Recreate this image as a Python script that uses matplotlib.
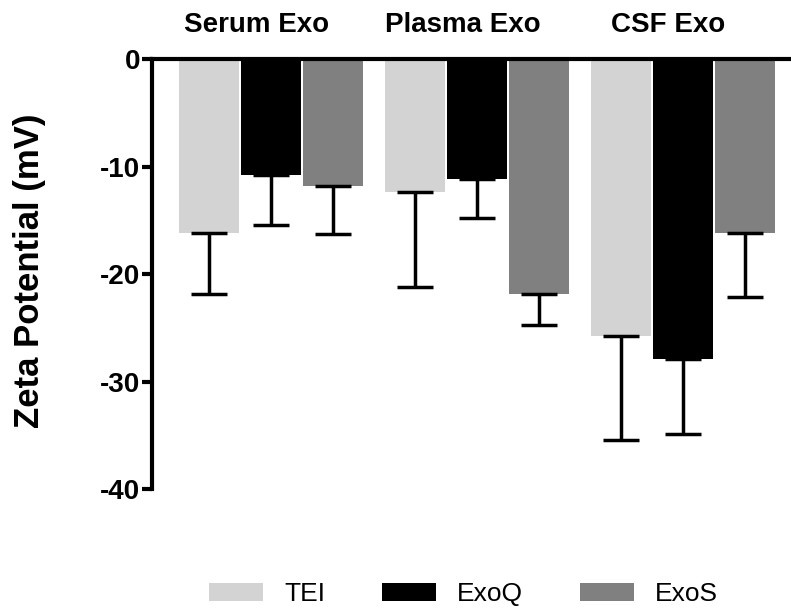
import matplotlib.pyplot as plt
import numpy as np

plt.rcParams['font.family'] = ['Liberation Sans', 'DejaVu Sans']

# Duomenys
groups = ['Serum Exo', 'Plasma Exo', 'CSF Exo']
methods = ['TEI', 'ExoQ', 'ExoS']
colors = ['#d3d3d3', '#000000', '#808080']

means = {
    'TEI': [-16.2, -12.4, -25.8],
    'ExoQ': [-10.8, -11.2, -27.9],
    'ExoS': [-11.8, -21.9, -16.2],
}
errs = {
    'TEI': [5.7, 8.8, 9.6],
    'ExoQ': [4.6, 3.6, 7.0],
    'ExoS': [4.5, 2.8, 5.9],
}

yticks = [0, -10, -20, -30, -40]

fig = plt.figure(figsize=(7.91, 6.09), dpi=100)
ax = fig.add_axes([0.192, 0.197, 0.808, 0.706])

x = np.arange(len(groups))
width = 0.29
offsets = [-0.3, 0, 0.3]

for m, c, off in zip(methods, colors, offsets):
    vals = np.array(means[m])
    e = np.array(errs[m])
    ax.bar(x + off, vals, width, color=c, label=m, zorder=2)
    ax.errorbar(x + off, vals, yerr=[e, np.zeros_like(e)], fmt='none',
                ecolor='black', elinewidth=2.5, capsize=13, capthick=2.5, zorder=3)

ax.set_xlim(-0.578, 2.524)
ax.set_ylim(-40, 0)
ax.set_yticks(yticks)
ax.set_yticklabels([str(t) for t in yticks], fontsize=20, fontweight='bold')
ax.set_xticks([])

for s in ['right', 'bottom']:
    ax.spines[s].set_visible(False)
ax.spines['left'].set_linewidth(3)
ax.spines['top'].set_linewidth(3)
ax.tick_params(axis='y', length=7, width=3, pad=1.5)

fig.text(0.037, 0.555, 'Zeta Potential (mV)', rotation=90, ha='center',
         va='center', fontsize=25, fontweight='bold')

for xi, g in zip(x, groups):
    ax.text(xi - 0.07, 1.08, g, transform=ax.get_xaxis_transform(), ha='center',
            va='center', fontsize=20, fontweight='bold')

fig.legend(loc='center', bbox_to_anchor=(0.586, 0.024), ncol=3, frameon=False,
           fontsize=19, handlelength=2.05, handleheight=0.65, handletextpad=0.8,
           columnspacing=2.15)

fig.savefig('out.png', dpi=100)
